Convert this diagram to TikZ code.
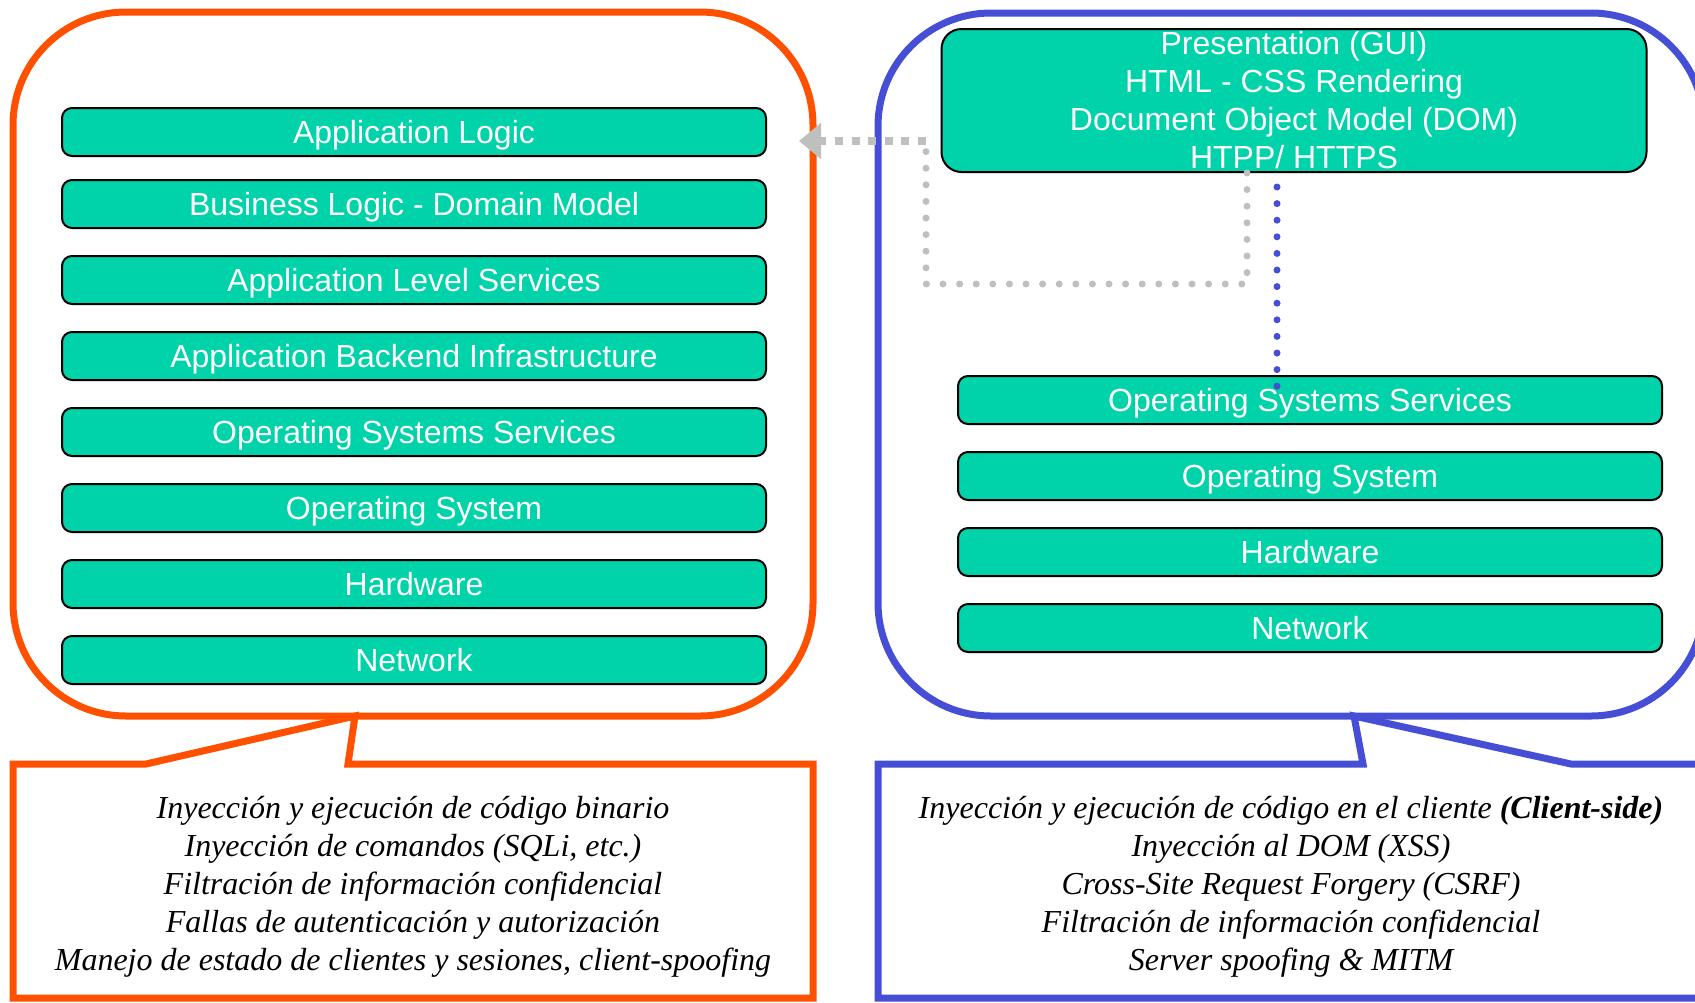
\documentclass[tikz,border=0pt]{standalone}
\usepackage{fontspec}
\setmainfont{Liberation Serif}
\newfontfamily\layerfont{Liberation Sans}
\usetikzlibrary{positioning,arrows.meta}
\definecolor{srvorange}{RGB}{255,80,0}
\definecolor{cliblue}{RGB}{70,78,214}
\definecolor{layergreen}{RGB}{0,210,170}
\definecolor{linkgray}{RGB}{190,192,190}

\begin{document}
\begin{tikzpicture}[
    x=0.5pt, y=-0.5pt,
    node distance=13pt,
    zone/.style={rectangle, rounded corners=56.5pt, line width=3.5pt, inner sep=0pt},
    layer/.style={rectangle, rounded corners=5pt, draw=black, line width=1pt, fill=layergreen, text=white, font=\layerfont\fontsize{16}{19}\selectfont, minimum width=352pt, minimum height=24pt, inner sep=0pt, text height=15pt, text depth=3.5pt},
    toplayer/.style={layer, rounded corners=10pt, minimum width=352.5pt, minimum height=71.5pt, align=center, text height=, text depth=},
    note/.style={font=\itshape\fontsize{16}{19}\selectfont, align=center},
    callout/.style={line width=3.5pt, fill=white, line join=miter},
    dotline/.style={line width=3.5pt, line cap=round, dash pattern=on 0pt off 8.3pt},
    dashline/.style={line width=4pt, dash pattern=on 4pt off 4.3pt, -{Triangle[length=11pt,width=17.5pt]}}
]
    \useasboundingbox (0,0) rectangle (1695,1002);
    \clip (0,0) rectangle (1695,1002);

    % server side
    \node[zone, draw=srvorange, minimum width=400pt, minimum height=352pt] (srv) at (413,364) {};
    \node[layer] (applogic) at (414,132) {Application Logic};
    \node[layer, below=11pt of applogic] (buslogic) {Business Logic - Domain Model};
    \node[layer, below=of buslogic] (appsvc) {Application Level Services};
    \node[layer, below=of appsvc] (backend) {Application Backend Infrastructure};
    \node[layer, below=of backend] (ossvc) {Operating Systems Services};
    \node[layer, below=of ossvc] (os) {Operating System};
    \node[layer, below=of os] (hw) {Hardware};
    \node[layer, below=of hw] (net) {Network};

    % client side
    \node[zone, draw=cliblue, minimum width=413pt, minimum height=351.5pt] (cli) at (1291,364.5) {};
    \node[toplayer] (pres) at (1294,100.5) {Presentation (GUI)\\HTML - CSS Rendering\\Document Object Model (DOM)\\HTPP/ HTTPS};
    \node[layer] (cossvc) at (1310,400) {Operating Systems Services};
    \node[layer, below=of cossvc] (cos) {Operating System};
    \node[layer, below=of cos] (chw) {Hardware};
    \node[layer, below=of chw] (cnet) {Network};

    % links
    \coordinate (grayx) at (1247,0);
    \coordinate (bend1) at (926,284);
    \coordinate (bend2) at (926,141);
    \coordinate (tip) at (799,141);
    \coordinate (dottop) at (1277,187);
    \coordinate (dotbot) at (1277,388);
    \draw[dotline, linkgray] (pres.south -| grayx) |- (bend1) -- (bend2);
    \draw[dashline, linkgray] (bend2) -- (tip);
    \draw[dotline, cliblue] (dottop) -- (dotbot);

    % callouts
    \draw[callout, draw=srvorange] (13,998) -- (13,764) -- (146,764) -- (355,716) -- (348,764) -- (813,764) -- (813,998) -- cycle;
    \draw[callout, draw=cliblue] (878,998) -- (878,764) -- (1363,764) -- (1354,716) -- (1571,764) -- (1720,764) -- (1720,998) -- cycle;

    \node[note] (srvnote) at (413,887) {Inyección y ejecución de código binario\\Inyección de comandos (SQLi, etc.)\\Filtración de información confidencial\\Fallas de autenticación y autorización\\Manejo de estado de clientes y sesiones, client-spoofing};
    \node[note] (clinote) at (1291,887) {Inyección y ejecución de código en el cliente \textbf{(Client-side)}\\Inyección al DOM (XSS)\\Cross-Site Request Forgery (CSRF)\\Filtración de información confidencial\\Server spoofing \& MITM};
\end{tikzpicture}
\end{document}
